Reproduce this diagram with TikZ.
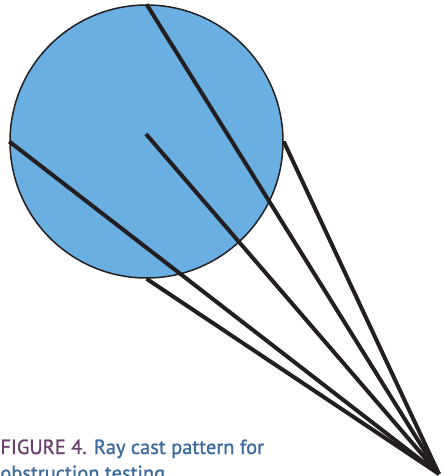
\documentclass[tikz,border=0pt]{standalone}
\usepackage{fontspec}
\setmainfont{PT Sans}
\newfontfamily\capfont{PT Sans}[FakeBold=1.2]
\usetikzlibrary{positioning}
\definecolor{sky}{HTML}{6AAFE1}
\definecolor{ink}{HTML}{231F20}
\definecolor{plum}{HTML}{6B3F6E}
\definecolor{steel}{HTML}{3F6C9E}
\tikzset{target/.style={circle,draw=ink,fill=sky,line width=0.75pt,minimum size=136.5pt,inner sep=0pt},
  ray/.style={draw=ink,line width=2pt},
  caption/.style={anchor=base west,align=left,inner sep=0pt,font=\capfont\fontsize{10.2}{13}\selectfont}}

\begin{document}
\begin{tikzpicture}[x=0.5pt,y=-0.5pt]
\clip (0,0) rectangle (442,476);
\node[target] (disk) at (146.5,141.5) {};
\coordinate (probe) at (146,134);
\coordinate (apex) at (439,474);
\foreach \p in {disk.north,disk.west,probe,disk.south,disk.east}{\draw[ray] (\p) -- (apex);}
\node[caption] (capa) at (0,454) {\textcolor{plum}{FIGURE 4.} \textcolor{steel}{Ray cast pattern for}};
\node[caption] (capb) at (0,480) {\textcolor{steel}{obstruction testing}};
\end{tikzpicture}
\end{document}
